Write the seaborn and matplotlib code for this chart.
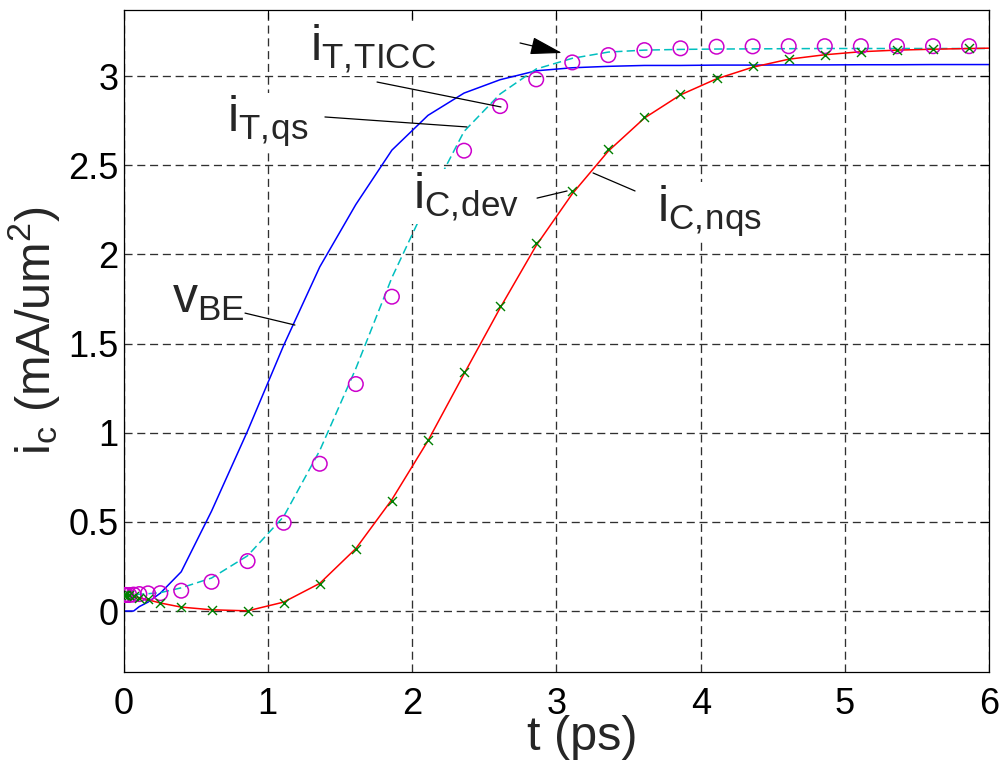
import numpy as np
import matplotlib
matplotlib.use("Agg")
import matplotlib.pyplot as plt
import seaborn as sns

# ---- data -------------------------------------------------------------
# time points of the device simulation (ps)
t_dev = [0.0, 0.005, 0.01, 0.02, 0.04, 0.07, 0.11, 0.17, 0.255, 0.40, 0.61,
         0.86, 1.11, 1.36, 1.61, 1.86, 2.11, 2.36, 2.61, 2.86, 3.11, 3.36,
         3.61, 3.86, 4.11, 4.36, 4.61, 4.86, 5.11, 5.36, 5.61, 5.86]
# model curves are evaluated on the same grid plus the end point
t_sim = t_dev + [6.0]

# i_C from device simulation (mA/um^2)
ic_dev = [0.09, 0.09, 0.09, 0.09, 0.088, 0.082, 0.074, 0.065, 0.045, 0.02,
          0.006, 0.0, 0.047, 0.151, 0.348, 0.619, 0.96, 1.34, 1.71, 2.066,
          2.356, 2.59, 2.772, 2.90, 2.988, 3.058, 3.096, 3.118, 3.137, 3.146,
          3.15, 3.159]
# transfer current, TICC formulation
it_ticc = [0.09, 0.09, 0.09, 0.09, 0.09, 0.092, 0.095, 0.099, 0.10, 0.114,
           0.164, 0.28, 0.495, 0.826, 1.273, 1.763, 2.22, 2.582, 2.832, 2.982,
           3.077, 3.118, 3.146, 3.156, 3.165, 3.167, 3.168, 3.168, 3.168,
           3.168, 3.168, 3.168]
# base-emitter voltage (scaled)
v_be = [0.0, 0.0, 0.0, 0.0, 0.0, 0.0, 0.025, 0.05, 0.10, 0.22, 0.56, 1.01,
        1.49, 1.93, 2.28, 2.585, 2.78, 2.905, 2.98, 3.03, 3.047, 3.055, 3.06,
        3.06, 3.062, 3.062, 3.063, 3.063, 3.064, 3.064, 3.065, 3.065, 3.065]
# quasi-static transfer current
it_qs = [0.09, 0.09, 0.09, 0.09, 0.09, 0.092, 0.094, 0.097, 0.103, 0.13,
         0.185, 0.31, 0.53, 0.90, 1.36, 1.87, 2.30, 2.69, 2.90, 3.04, 3.10,
         3.135, 3.146, 3.15, 3.152, 3.153, 3.154, 3.155, 3.155, 3.155, 3.155,
         3.155, 3.155]
# non-quasi-static collector current
ic_nqs = [0.0, 0.09, 0.09, 0.088, 0.085, 0.08, 0.074, 0.063, 0.045, 0.022,
          0.007, 0.001, 0.05, 0.155, 0.35, 0.625, 0.955, 1.33, 1.70, 2.05,
          2.34, 2.58, 2.765, 2.895, 2.985, 3.05, 3.095, 3.12, 3.137, 3.146,
          3.151, 3.155, 3.157]

x_ticks = [0, 1, 2, 3, 4, 5, 6]
y_ticks = [0, 0.5, 1, 1.5, 2, 2.5, 3]
y_tick_labels = ["0", "0.5", "1", "1.5", "2", "2.5", "3"]

# ---- style ------------------------------------------------------------
sns.set_style("white")
plt.rcParams["font.family"] = ["Liberation Sans", "DejaVu Sans"]
plt.rcParams["mathtext.fontset"] = "custom"
plt.rcParams["mathtext.rm"] = "Liberation Sans"
plt.rcParams["mathtext.it"] = "Liberation Sans:italic"
plt.rcParams["mathtext.bf"] = "Liberation Sans:bold"
plt.rcParams["mathtext.default"] = "regular"
plt.rcParams["lines.scale_dashes"] = False

W, H = 1001, 760
fig = plt.figure(figsize=(W / 100, H / 100), dpi=100)
fig.patch.set_facecolor("white")
ax = fig.add_axes([123.5 / W, 1 - 672 / H, (989.3 - 123.5) / W, (672 - 10) / H])

# ---- curves -------------------------------------------------------------
sns.lineplot(x=t_sim, y=v_be, color="#0000FF", lw=1.1, estimator=None,
             ax=ax, zorder=2)
sns.lineplot(x=t_sim, y=it_qs, color="#00BFBF", lw=1.1, estimator=None,
             ls=(0, (6, 3)), ax=ax, zorder=2)
sns.lineplot(x=t_sim, y=ic_nqs, color="#FF0000", lw=1.1, estimator=None,
             ax=ax, zorder=2)
sns.scatterplot(x=t_dev, y=it_ticc, marker="o", s=110, facecolor="none",
                edgecolor="#CC00CC", linewidth=1.1, ax=ax, zorder=3)
sns.scatterplot(x=t_dev, y=ic_dev, marker="x", s=42, color="#007F00",
                linewidth=1.0, ax=ax, zorder=3)

# ---- axes -------------------------------------------------------------
ax.set_xlim(0, 6)
ax.set_ylim(-0.342, 3.371)
ax.set_xticks(x_ticks)
ax.set_xticklabels([str(v) for v in x_ticks])
ax.set_yticks(y_ticks)
ax.set_yticklabels(y_tick_labels)
ax.tick_params(axis="both", direction="in", length=6.5, width=0.8,
               top=True, right=True, labelsize=26, colors="black")
ax.tick_params(axis="x", pad=10.5)
ax.tick_params(axis="y", pad=3.6)
for sp in ax.spines.values():
    sp.set_visible(True)
    sp.set_color("black")
    sp.set_linewidth(0.9)
ax.set_axisbelow(True)
ax.grid(True, color="#303030", lw=0.95, ls=(0, (5.8, 3.4)))
ax.set_xlabel("")
ax.set_ylabel("")

# axis titles
fig.text(582.5 / W, 1 - 750 / H, "t (ps)", fontsize=35, ha="center",
         va="baseline")
fig.text(50 / W, 1 - 330 / H, r"$i_c$ (mA/um$^2$)", fontsize=35,
         rotation=90, rotation_mode="anchor", ha="center", va="baseline")

# ---- curve labels ---------------------------------------------------------
box = dict(facecolor="white", edgecolor="none", pad=1.0)
labels = [
    (r"$i_{T,\!TICC}$", (1.292, 3.090), (1.757, 2.967), (2.616, 2.827)),
    (r"$i_{T,\!qs}$", (0.717, 2.686), (1.396, 2.771), (2.380, 2.715)),
    (r"$v_{BE}$", (0.336, 1.671), (0.842, 1.671), (1.188, 1.604)),
    (r"$i_{C,\!dev}$", (2.006, 2.260), (2.866, 2.316), (3.074, 2.356)),
    (r"$i_{C,\!nqs}$", (3.697, 2.182), (3.254, 2.457), (3.545, 2.356)),
]
for txt, pos, p0, p1 in labels:
    ax.text(pos[0], pos[1], txt, fontsize=36, ha="left", va="baseline",
            bbox=box, zorder=5)
    ax.annotate("", xy=p1, xytext=p0,
                arrowprops=dict(arrowstyle="-", lw=0.9, color="black",
                                shrinkA=0, shrinkB=0), zorder=6)

# arrow pointing at the settled TICC current
ax.annotate("", xy=(3.039, 3.13), xytext=(2.748, 3.186),
            arrowprops=dict(arrowstyle="-|>,head_length=2.0,head_width=0.55",
                            mutation_scale=10, lw=0.9, color="black",
                            fc="black", shrinkA=0, shrinkB=0), zorder=6)

fig.savefig("out.png", dpi=100, facecolor="white")
